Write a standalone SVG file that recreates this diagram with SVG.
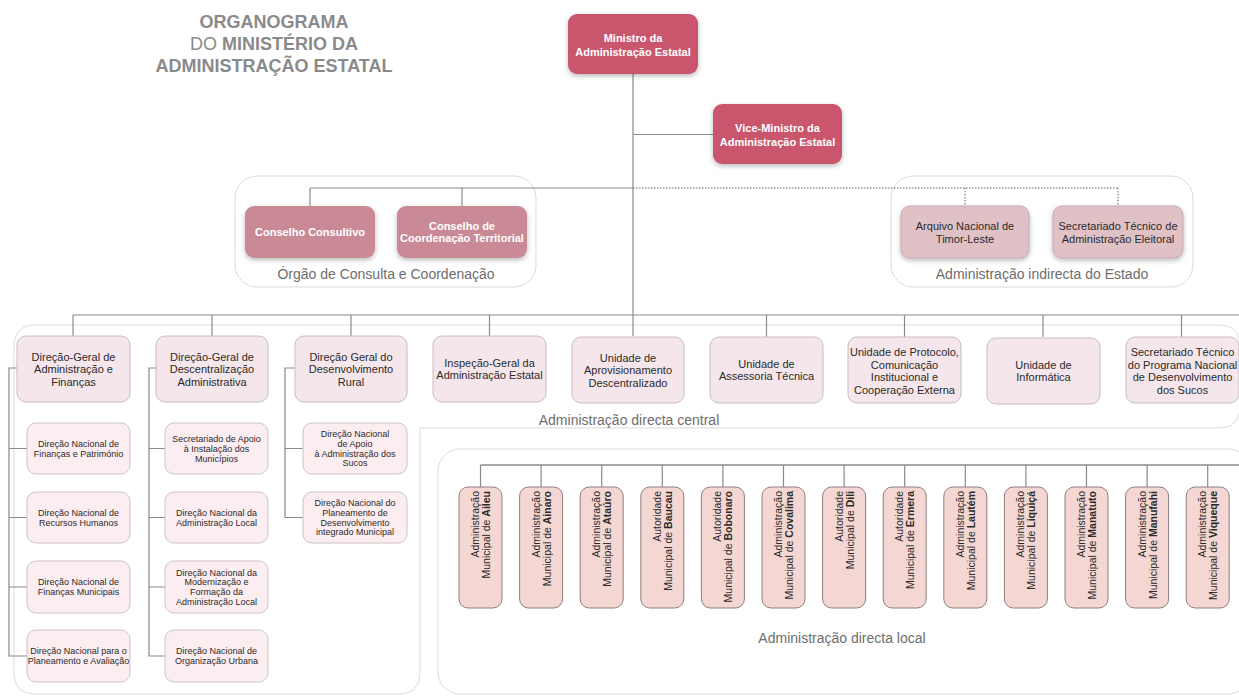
<svg xmlns="http://www.w3.org/2000/svg" width="1239" height="696" viewBox="0 0 1239 696">
<defs>
<filter id="sh" x="-20%" y="-20%" width="140%" height="170%"><feDropShadow dx="0" dy="2" stdDeviation="2.5" flood-color="#000" flood-opacity="0.28"/></filter>
<filter id="shl" x="-20%" y="-20%" width="140%" height="170%"><feDropShadow dx="0" dy="1.5" stdDeviation="2" flood-color="#000" flood-opacity="0.18"/></filter>
<style>
text{font-family:"Liberation Sans",Arial,Helvetica,sans-serif}
.title{font-size:18px;font-weight:bold;fill:#8a8a8a;text-anchor:middle}
.grp{fill:none;stroke:#d9d9d9;stroke-width:1}
.glabel{font-size:14px;fill:#6e6e6e;text-anchor:middle}
.red{fill:#c9566c}
.rose{fill:#c98a96}
.mauve{fill:#dfc1c6;stroke:#c4a9ae;stroke-width:1}
.cbox{fill:#f4e6ea;stroke:#c9bcc0;stroke-width:1}
.sbox{fill:#fcedf1;stroke:#cdc3c6;stroke-width:1}
.mbox{fill:#f4d7d2;stroke:#8f7e7e;stroke-width:1}
.wt{font-size:11px;font-weight:bold;fill:#fff;text-anchor:middle}
.dt{font-size:11px;fill:#2b2b2b;text-anchor:middle}
.st{font-size:9px;fill:#2b2b2b;text-anchor:middle}
.mt{font-size:10.5px;fill:#2b2b2b;text-anchor:end}
.cn{stroke:#8a8a8a;stroke-width:1.2;fill:none}
.cnd{stroke:#555;stroke-width:1.2;fill:none}
.dot{stroke:#666;stroke-width:1;stroke-dasharray:1.5 1.5;fill:none}
</style>
</defs>
<rect width="1239" height="696" fill="#fff"/>

<g id="title">
<text class="title" x="274" y="28">ORGANOGRAMA</text>
<text class="title" x="274" y="50"><tspan font-weight="normal">DO </tspan>MINISTÉRIO DA</text>
<text class="title" x="274" y="72">ADMINISTRAÇÃO ESTATAL</text>
</g>

<g id="groups">
<rect class="grp" x="235" y="176" width="301" height="111" rx="22"/>
<text class="glabel" x="386" y="279">Órgão de Consulta e Coordenação</text>
<rect class="grp" x="891" y="176" width="302" height="111" rx="22"/>
<text class="glabel" x="1042" y="279">Administração indirecta do Estado</text>
<path class="grp" d="M 36 325 H 1218 Q 1240 325 1240 347 V 406 Q 1240 428 1218 428 H 420 V 672 Q 420 694 398 694 H 36 Q 14 694 14 672 V 347 Q 14 325 36 325 Z"/>
<text class="glabel" x="629" y="425">Administração directa central</text>
<rect class="grp" x="438" y="449" width="812" height="245" rx="22"/>
<text class="glabel" x="842" y="643">Administração directa local</text>
</g>

<g id="connectors">
<line class="cn" x1="633" y1="74" x2="633" y2="336"/>
<line class="cn" x1="633" y1="134.5" x2="713" y2="134.5"/>
<line class="cn" x1="310" y1="188" x2="633" y2="188"/>
<line class="cn" x1="310" y1="188" x2="310" y2="206"/>
<line class="cn" x1="462" y1="188" x2="462" y2="206"/>
<line class="dot" x1="633" y1="188" x2="1118" y2="188"/>
<line class="dot" x1="965" y1="188" x2="965" y2="206"/>
<line class="dot" x1="1118" y1="188" x2="1118" y2="206"/>
<line class="cn" x1="73" y1="315" x2="1239" y2="315"/>
<line class="cn" x1="73" y1="315" x2="73" y2="336"/>
<line class="cn" x1="212" y1="315" x2="212" y2="336"/>
<line class="cn" x1="351" y1="315" x2="351" y2="336"/>
<line class="cn" x1="489.5" y1="315" x2="489.5" y2="336"/>
<line class="cn" x1="766.5" y1="315" x2="766.5" y2="337"/>
<line class="cn" x1="904.5" y1="315" x2="904.5" y2="337"/>
<line class="cn" x1="1043" y1="315" x2="1043" y2="337"/>
<line class="cn" x1="1181.5" y1="315" x2="1181.5" y2="337"/>
<path class="cn" d="M17 368 H9 V656 H27 M9 448.5 H27 M9 517.5 H27 M9 587 H27"/>
<path class="cn" d="M156 368 H149 V656 H165 M149 448.5 H165 M149 517.5 H165 M149 587 H165"/>
<path class="cn" d="M295 368 H285 V517.5 H303 M285 448.5 H303"/>
<line class="cnd" x1="480.5" y1="465" x2="1239" y2="465"/>
<path class="cn" d="M480.5 465 V487 M541.1 465 V487 M601.7 465 V487 M662.3 465 V487 M722.9 465 V487 M783.5 465 V487 M844.1 465 V487 M904.7 465 V487 M965.3 465 V487 M1025.9 465 V487 M1086.5 465 V487 M1147.1 465 V487 M1207.7 465 V487"/>
</g>

<g id="ministro">
<rect class="red" x="568" y="14" width="130" height="60" rx="9" filter="url(#sh)"/>
<text class="wt" x="633" y="42">Ministro da</text>
<text class="wt" x="633" y="55.5">Administração Estatal</text>
</g>
<g id="vice-ministro">
<rect class="red" x="713" y="104" width="129" height="60" rx="9" filter="url(#sh)"/>
<text class="wt" x="777.5" y="132">Vice-Ministro da</text>
<text class="wt" x="777.5" y="145.5">Administração Estatal</text>
</g>

<g id="conselho-consultivo">
<rect class="rose" x="245" y="206" width="130" height="52" rx="9" filter="url(#sh)"/>
<text class="wt" x="310" y="236">Conselho Consultivo</text>
</g>
<g id="conselho-coordenacao">
<rect class="rose" x="397" y="206" width="130" height="52" rx="9" filter="url(#sh)"/>
<text class="wt" x="462" y="230">Conselho de</text>
<text class="wt" x="462" y="242">Coordenação Territorial</text>
</g>
<g id="arquivo-nacional">
<rect class="mauve" x="901" y="206" width="128" height="52" rx="9" filter="url(#sh)"/>
<text class="dt" x="965" y="230">Arquivo Nacional de</text>
<text class="dt" x="965" y="242.5">Timor-Leste</text>
</g>
<g id="secretariado-eleitoral">
<rect class="mauve" x="1053" y="206" width="130" height="52" rx="9" filter="url(#sh)"/>
<text class="dt" x="1118" y="230">Secretariado Técnico de</text>
<text class="dt" x="1118" y="242.5">Administração Eleitoral</text>
</g>

<g id="dg-administracao-financas">
<rect class="cbox" x="17" y="336" width="113" height="66" rx="9"/>
<text class="dt" x="73.5" y="360.5">Direção-Geral de</text>
<text class="dt" x="73.5" y="373">Administração e</text>
<text class="dt" x="73.5" y="385.5">Finanças</text>
</g>
<g id="dg-descentralizacao">
<rect class="cbox" x="156" y="336" width="112" height="66" rx="9"/>
<text class="dt" x="212" y="360.5">Direção-Geral de</text>
<text class="dt" x="212" y="373">Descentralização</text>
<text class="dt" x="212" y="385.5">Administrativa</text>
</g>
<g id="dg-desenvolvimento-rural">
<rect class="cbox" x="295" y="336" width="112" height="66" rx="9"/>
<text class="dt" x="351" y="360.5">Direção Geral do</text>
<text class="dt" x="351" y="373">Desenvolvimento</text>
<text class="dt" x="351" y="385.5">Rural</text>
</g>
<g id="inspecao-geral">
<rect class="cbox" x="433" y="336" width="113" height="66" rx="9"/>
<text class="dt" x="489.5" y="366.5">Inspeção-Geral da</text>
<text class="dt" x="489.5" y="379">Administração Estatal</text>
</g>
<g id="unidade-aprovisionamento">
<rect class="cbox" x="572" y="337" width="112" height="66" rx="9"/>
<text class="dt" x="628" y="361.5">Unidade de</text>
<text class="dt" x="628" y="374">Aprovisionamento</text>
<text class="dt" x="628" y="386.5">Descentralizado</text>
</g>
<g id="unidade-assessoria">
<rect class="cbox" x="710" y="337" width="113" height="66" rx="9"/>
<text class="dt" x="766.5" y="367.5">Unidade de</text>
<text class="dt" x="766.5" y="380">Assessoria Técnica</text>
</g>
<g id="unidade-protocolo">
<rect class="cbox" x="848" y="337" width="113" height="66" rx="9"/>
<text class="dt" x="904.5" y="356">Unidade de Protocolo,</text>
<text class="dt" x="904.5" y="368.5">Comunicação</text>
<text class="dt" x="904.5" y="381">Institucional e</text>
<text class="dt" x="904.5" y="393.5">Cooperação Externa</text>
</g>
<g id="unidade-informatica">
<rect class="cbox" x="987" y="338" width="113" height="66" rx="9"/>
<text class="dt" x="1043.5" y="368.5">Unidade de</text>
<text class="dt" x="1043.5" y="381">Informática</text>
</g>
<g id="secretariado-sucos">
<rect class="cbox" x="1126" y="337" width="113" height="66" rx="9"/>
<text class="dt" x="1182.5" y="356">Secretariado Técnico</text>
<text class="dt" x="1182.5" y="368.5">do Programa Nacional</text>
<text class="dt" x="1182.5" y="381">de Desenvolvimento</text>
<text class="dt" x="1182.5" y="393.5">dos Sucos</text>
</g>

<g id="dn-financas-patrimonio">
<rect class="sbox" x="27" y="423" width="103" height="51" rx="9"/>
<text class="st" x="78.5" y="446.8">Direção Nacional de</text>
<text class="st" x="78.5" y="456.6">Finanças e Património</text>
</g>
<g id="dn-recursos-humanos">
<rect class="sbox" x="27" y="492" width="103" height="51" rx="9"/>
<text class="st" x="78.5" y="515.8">Direção Nacional de</text>
<text class="st" x="78.5" y="525.6">Recursos Humanos</text>
</g>
<g id="dn-financas-municipais">
<rect class="sbox" x="27" y="561" width="103" height="52" rx="9"/>
<text class="st" x="78.5" y="585.3">Direção Nacional de</text>
<text class="st" x="78.5" y="595.1">Finanças Municipais</text>
</g>
<g id="dn-planeamento-avaliacao">
<rect class="sbox" x="27" y="630" width="103" height="52" rx="9"/>
<text class="st" x="78.5" y="654.3">Direção Nacional para o</text>
<text class="st" x="78.5" y="664.1">Planeamento e Avaliação</text>
</g>

<g id="secretariado-apoio-municipios">
<rect class="sbox" x="165" y="423" width="103" height="51" rx="9"/>
<text class="st" x="216.5" y="441.9">Secretariado de Apoio</text>
<text class="st" x="216.5" y="451.7">à Instalação dos</text>
<text class="st" x="216.5" y="461.5">Municípios</text>
</g>
<g id="dn-administracao-local">
<rect class="sbox" x="165" y="492" width="103" height="51" rx="9"/>
<text class="st" x="216.5" y="515.8">Direção Nacional da</text>
<text class="st" x="216.5" y="525.6">Administração Local</text>
</g>
<g id="dn-modernizacao">
<rect class="sbox" x="165" y="561" width="103" height="52" rx="9"/>
<text class="st" x="216.5" y="575.5">Direção Nacional da</text>
<text class="st" x="216.5" y="585.3">Modernização e</text>
<text class="st" x="216.5" y="595.1">Formação da</text>
<text class="st" x="216.5" y="604.9">Administração Local</text>
</g>
<g id="dn-organizacao-urbana">
<rect class="sbox" x="165" y="630" width="103" height="52" rx="9"/>
<text class="st" x="216.5" y="654.3">Direção Nacional de</text>
<text class="st" x="216.5" y="664.1">Organização Urbana</text>
</g>

<g id="dn-apoio-sucos">
<rect class="sbox" x="303" y="423" width="104" height="51" rx="9"/>
<text class="st" x="355" y="437">Direção Nacional</text>
<text class="st" x="355" y="446.8">de Apoio</text>
<text class="st" x="355" y="456.6">à Administração dos</text>
<text class="st" x="355" y="466.4">Sucos</text>
</g>
<g id="dn-planeamento-municipal">
<rect class="sbox" x="303" y="492" width="104" height="51" rx="9"/>
<text class="st" x="355" y="506">Direção Nacional do</text>
<text class="st" x="355" y="515.8">Planeamento de</text>
<text class="st" x="355" y="525.6">Desenvolvimento</text>
<text class="st" x="355" y="535.4">integrado Municipal</text>
</g>

<g id="am-aileu"><rect class="mbox" x="459" y="487" width="43" height="121" rx="9"/>
<text class="mt" transform="translate(480.5,491) rotate(-90)"><tspan x="0" y="-1.5">Administração</tspan><tspan x="0" y="9.5">Municipal de <tspan font-weight="bold">Aileu</tspan></tspan></text></g>
<g id="am-ainaro"><rect class="mbox" x="519.6" y="487" width="43" height="121" rx="9"/>
<text class="mt" transform="translate(541.1,491) rotate(-90)"><tspan x="0" y="-1.5">Administração</tspan><tspan x="0" y="9.5">Municipal de <tspan font-weight="bold">Ainaro</tspan></tspan></text></g>
<g id="am-atauro"><rect class="mbox" x="580.2" y="487" width="43" height="121" rx="9"/>
<text class="mt" transform="translate(601.7,491) rotate(-90)"><tspan x="0" y="-1.5">Administração</tspan><tspan x="0" y="9.5">Municipal de <tspan font-weight="bold">Ataúro</tspan></tspan></text></g>
<g id="am-baucau"><rect class="mbox" x="640.8" y="487" width="43" height="121" rx="9"/>
<text class="mt" transform="translate(662.3,491) rotate(-90)"><tspan x="0" y="-1.5">Autoridade</tspan><tspan x="0" y="9.5">Municipal de <tspan font-weight="bold">Baucau</tspan></tspan></text></g>
<g id="am-bobonaro"><rect class="mbox" x="701.4" y="487" width="43" height="121" rx="9"/>
<text class="mt" transform="translate(722.9,491) rotate(-90)"><tspan x="0" y="-1.5">Autoridade</tspan><tspan x="0" y="9.5">Municipal de <tspan font-weight="bold">Bobonaro</tspan></tspan></text></g>
<g id="am-covalima"><rect class="mbox" x="762" y="487" width="43" height="121" rx="9"/>
<text class="mt" transform="translate(783.5,491) rotate(-90)"><tspan x="0" y="-1.5">Administração</tspan><tspan x="0" y="9.5">Municipal de <tspan font-weight="bold">Covalima</tspan></tspan></text></g>
<g id="am-dili"><rect class="mbox" x="822.6" y="487" width="43" height="121" rx="9"/>
<text class="mt" transform="translate(844.1,491) rotate(-90)"><tspan x="0" y="-1.5">Autoridade</tspan><tspan x="0" y="9.5">Municipal de <tspan font-weight="bold">Dili</tspan></tspan></text></g>
<g id="am-ermera"><rect class="mbox" x="883.2" y="487" width="43" height="121" rx="9"/>
<text class="mt" transform="translate(904.7,491) rotate(-90)"><tspan x="0" y="-1.5">Autoridade</tspan><tspan x="0" y="9.5">Municipal de <tspan font-weight="bold">Ermera</tspan></tspan></text></g>
<g id="am-lautem"><rect class="mbox" x="943.8" y="487" width="43" height="121" rx="9"/>
<text class="mt" transform="translate(965.3,491) rotate(-90)"><tspan x="0" y="-1.5">Administração</tspan><tspan x="0" y="9.5">Municipal de <tspan font-weight="bold">Lautém</tspan></tspan></text></g>
<g id="am-liquica"><rect class="mbox" x="1004.4" y="487" width="43" height="121" rx="9"/>
<text class="mt" transform="translate(1025.9,491) rotate(-90)"><tspan x="0" y="-1.5">Administração</tspan><tspan x="0" y="9.5">Municipal de <tspan font-weight="bold">Liquiçá</tspan></tspan></text></g>
<g id="am-manatuto"><rect class="mbox" x="1065" y="487" width="43" height="121" rx="9"/>
<text class="mt" transform="translate(1086.5,491) rotate(-90)"><tspan x="0" y="-1.5">Administração</tspan><tspan x="0" y="9.5">Municipal de <tspan font-weight="bold">Manatuto</tspan></tspan></text></g>
<g id="am-manufahi"><rect class="mbox" x="1125.6" y="487" width="43" height="121" rx="9"/>
<text class="mt" transform="translate(1147.1,491) rotate(-90)"><tspan x="0" y="-1.5">Administração</tspan><tspan x="0" y="9.5">Municipal de <tspan font-weight="bold">Manufahi</tspan></tspan></text></g>
<g id="am-viqueque"><rect class="mbox" x="1186.2" y="487" width="43" height="121" rx="9"/>
<text class="mt" transform="translate(1207.7,491) rotate(-90)"><tspan x="0" y="-1.5">Administração</tspan><tspan x="0" y="9.5">Municipal de <tspan font-weight="bold">Viqueque</tspan></tspan></text></g>
</svg>
